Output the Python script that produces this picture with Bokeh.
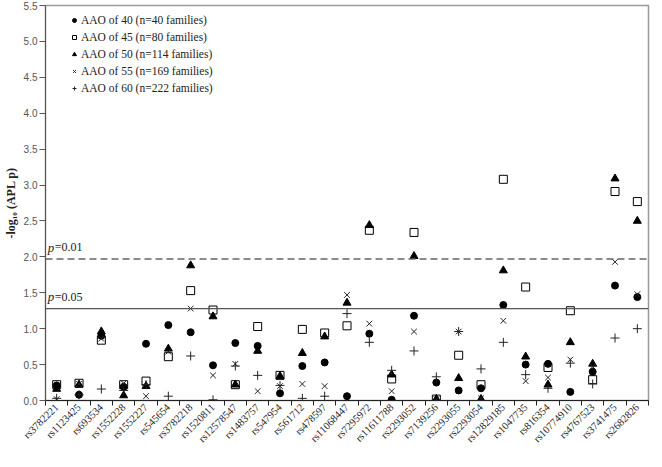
import numpy as np
from bokeh.plotting import figure
from bokeh.models import Range1d, FixedTicker, Span, Label, Legend, LegendItem
from bokeh.embed import file_html
from bokeh.resources import INLINE

snps = ["rs3782221", "rs1123425", "rs693534", "rs1552228", "rs1552227", "rs545654",
        "rs3782218", "rs1520811", "rs12578547", "rs1483757", "rs547954", "rs561712",
        "rs478597", "rs11068447", "rs7295972", "rs11611788", "rs2293052", "rs7139256",
        "rs2293055", "rs2293054", "rs12829185", "rs1047735", "rs816354", "rs10774910",
        "rs4767523", "rs3741475", "rs2682826"]

aao40 = [0.21, 0.08, 0.90, 0.19, 0.79, 1.05, 0.95, 0.49, 0.80, 0.76, 0.10, 0.48, 0.53, 0.06,
         0.93, 0.01, 1.18, 0.25, 0.14, 0.17, 1.33, 0.50, 0.51, 0.12, 0.40, 1.60, 1.44]
aao45 = [0.22, 0.24, 0.84, 0.22, 0.27, 0.61, 1.53, 1.26, 0.22, 1.03, 0.35, 0.99, 0.94, 1.04,
         2.37, 0.30, 2.34, 0.02, 0.63, 0.22, 3.08, 1.58, 0.46, 1.25, 0.29, 2.91, 2.77]
aao50 = [0.16, 0.22, 0.96, 0.07, 0.20, 0.72, 1.88, 1.17, 0.22, 0.69, 0.34, 0.66, 0.89, 1.36,
         2.44, 0.36, 2.01, 0.02, 0.31, 0.02, 1.81, 0.61, 0.22, 0.81, 0.51, 3.09, 2.50]
aao55 = [0.02, 0.23, 0.86, 0.24, 0.06, 0.68, 1.28, 0.35, 0.51, 0.13, 0.20, 0.23, 0.20, 1.47,
         1.07, 0.13, 0.96, 0.02, 0.96, 0.03, 1.11, 0.27, 0.32, 0.57, 0.47, 1.93, 1.48]
aao60 = [0.03, 0.08, 0.16, 0.14, 0.22, 0.06, 0.62, 0.01, 0.48, 0.35, 0.21, 0.03, 0.06, 1.21,
         0.81, 0.42, 0.69, 0.33, 0.96, 0.44, 0.81, 0.36, 0.17, 0.52, 0.23, 0.87, 1.00]

series_labels = ["AAO of 40 (n=40 families)", "AAO of 45 (n=80 families)",
                 "AAO of 50 (n=114 families)", "AAO of 55 (n=169 families)",
                 "AAO of 60 (n=222 families)"]

thr_01 = 1.97
thr_05 = 1.28
y_ticks = [0.0, 0.5, 1.0, 1.5, 2.0, 2.5, 3.0, 3.5, 4.0, 4.5, 5.0, 5.5]

n = len(snps)
xc = [i + 0.5 for i in range(n)]

p = figure(width=651, height=451, output_backend="svg", toolbar_location=None,
           x_range=Range1d(0, n), y_range=Range1d(0, 5.5),
           min_border_left=37, min_border_right=3, min_border_top=5, min_border_bottom=50)
p.background_fill_color = "white"
p.border_fill_color = "white"
p.outline_line_color = "#999999"
p.outline_line_width = 1.5
p.xgrid.visible = False
p.ygrid.visible = False

# x axis
xax = p.xaxis[0]
xax.ticker = FixedTicker(ticks=xc, minor_ticks=list(range(n + 1)))
xax.major_label_overrides = {x: s for x, s in zip(xc, snps)}
xax.major_label_orientation = np.pi / 4
xax.major_tick_out = 0
xax.major_tick_in = 0
xax.minor_tick_out = 5
xax.minor_tick_in = 0
xax.minor_tick_line_color = "#222222"
xax.axis_line_color = "#222222"
xax.major_label_text_font = "Liberation Serif"
xax.major_label_text_font_size = "10.5px"
xax.major_label_text_color = "#222222"
xax.major_label_standoff = 0

# y axis
yax = p.yaxis[0]
yax.ticker = FixedTicker(ticks=y_ticks, minor_ticks=[])
yax.major_label_overrides = {t: f"{t:.1f}" for t in y_ticks}
yax.major_tick_out = 6
yax.major_tick_in = 0
yax.major_tick_line_color = "#555555"
yax.axis_line_color = "#555555"
yax.major_label_text_font = "Liberation Sans"
yax.major_label_text_font_size = "10px"
yax.major_label_text_color = "#555555"
yax.major_label_standoff = 2
yax.axis_label = "-log\u2081\u2080 (APL p)"
yax.axis_label_text_font = "Liberation Serif"
yax.axis_label_text_font_style = "bold"
yax.axis_label_text_font_size = "12px"
yax.axis_label_text_color = "#222222"
yax.axis_label_standoff = 3

# threshold lines
p.add_layout(Span(location=thr_01, dimension="width", line_color="#666666",
                  line_dash="7 4", line_width=1.3))
p.add_layout(Span(location=thr_05, dimension="width", line_color="#555555",
                  line_width=1.3))

for yv, txt in [(thr_01, "=0.01"), (thr_05, "=0.05")]:
    p.add_layout(Label(x=0.1, y=yv, y_offset=12, text="p", text_font="Liberation Serif",
                       text_font_style="italic", text_font_size="13px",
                       text_baseline="middle", text_color="#222222"))
    p.add_layout(Label(x=0.1, y=yv, x_offset=7, y_offset=12, text=txt,
                       text_font="Liberation Serif", text_font_size="12px",
                       text_baseline="middle", text_color="#222222"))

r40 = p.scatter(xc, aao40, marker="circle", size=7, fill_color="black", line_color="black")
r45 = p.scatter(xc, aao45, marker="square", size=8, fill_alpha=0, line_color="black",
                line_width=1)
r50 = p.scatter(xc, aao50, marker="triangle", size=8, fill_color="black", line_color="black")
r55 = p.scatter(xc, aao55, marker="x", size=8, line_color="#222222", line_width=1)
r60 = p.scatter(xc, aao60, marker="cross", size=9, line_color="#222222", line_width=1)

legend = Legend(items=[LegendItem(label=l, renderers=[r]) for l, r in
                       zip(series_labels, [r40, r45, r50, r55, r60])],
                location=(24, 305), margin=0, padding=0, spacing=3,
                glyph_width=10, glyph_height=14, label_height=14, label_standoff=2,
                label_text_font="Liberation Serif", label_text_font_size="11.5px",
                label_text_color="#222222", border_line_alpha=0,
                background_fill_alpha=0)
p.add_layout(legend)

open("out.html", "w").write(file_html(p, INLINE))
